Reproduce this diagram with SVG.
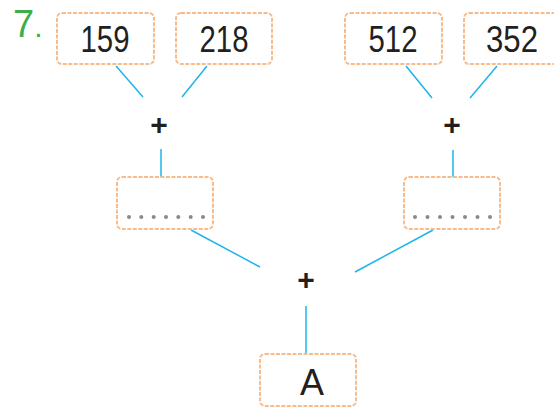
<svg xmlns="http://www.w3.org/2000/svg" width="554" height="411" viewBox="0 0 554 411">
<style>
.box{fill:#fff;stroke:#F8BC8C;stroke-width:2;stroke-dasharray:4 1.5}
.num{font-family:"Liberation Sans",Arial,sans-serif;font-size:36px;fill:#231F20;text-anchor:middle}
.op{font-family:"Liberation Sans",Arial,sans-serif;font-size:30px;font-weight:bold;fill:#231F20;text-anchor:middle}
.ln{stroke:#1EB4E8;stroke-width:1.5;fill:none}
.dot{fill:#8A8A8C}
</style>
<rect width="554" height="411" fill="#fff"/>
<text x="13" y="37" font-family="Liberation Sans,Arial,sans-serif" font-size="38" fill="#3DAE49">7<tspan font-size="30">.</tspan></text>
<g id="connectors">
<line class="ln" x1="116" y1="66" x2="143" y2="97"/>
<line class="ln" x1="207" y1="66" x2="182" y2="97"/>
<line class="ln" x1="406" y1="66" x2="432" y2="98"/>
<line class="ln" x1="497" y1="66" x2="470" y2="98"/>
<line class="ln" x1="161" y1="149" x2="161" y2="177"/>
<line class="ln" x1="453" y1="150" x2="453" y2="177"/>
<line class="ln" x1="191" y1="230" x2="260" y2="267"/>
<line class="ln" x1="433" y1="230" x2="355" y2="272"/>
<line class="ln" x1="306" y1="306" x2="306" y2="354"/>
</g>
<g id="n159"><rect class="box" x="57" y="13" width="97" height="51" rx="5"/><text class="num" x="105" y="52" textLength="49" lengthAdjust="spacingAndGlyphs">159</text></g>
<g id="n218"><rect class="box" x="176" y="13" width="96" height="51" rx="5"/><text class="num" x="224" y="52" textLength="49" lengthAdjust="spacingAndGlyphs">218</text></g>
<g id="n512"><rect class="box" x="345" y="13" width="97" height="51" rx="5"/><text class="num" x="393" y="52" textLength="49" lengthAdjust="spacingAndGlyphs">512</text></g>
<g id="n352"><rect class="box" x="464" y="13" width="97" height="51" rx="5"/><text class="num" x="512" y="52" textLength="52" lengthAdjust="spacingAndGlyphs">352</text></g>
<g id="plus1"><text class="op" x="159" y="135">+</text></g>
<g id="plus2"><text class="op" x="452" y="135">+</text></g>
<g id="sum1"><rect class="box" x="117" y="177" width="96" height="52" rx="5"/>
<g class="dot"><circle cx="129" cy="217" r="2"/><circle cx="141.3" cy="217" r="2"/><circle cx="153.7" cy="217" r="2"/><circle cx="166" cy="217" r="2"/><circle cx="178.3" cy="217" r="2"/><circle cx="190.7" cy="217" r="2"/><circle cx="203" cy="217" r="2"/></g></g>
<g id="sum2"><rect class="box" x="404" y="177" width="96" height="52" rx="5"/>
<g class="dot"><circle cx="415" cy="217" r="2"/><circle cx="427.5" cy="217" r="2"/><circle cx="440" cy="217" r="2"/><circle cx="452.5" cy="217" r="2"/><circle cx="465" cy="217" r="2"/><circle cx="477.5" cy="217" r="2"/><circle cx="490" cy="217" r="2"/></g></g>
<g id="plus3"><text class="op" x="306" y="290">+</text></g>
<g id="nA"><rect class="box" x="260" y="354" width="96" height="52" rx="5"/><text class="num" x="312" y="395" font-size="40" textLength="24" lengthAdjust="spacingAndGlyphs">A</text></g>
</svg>
